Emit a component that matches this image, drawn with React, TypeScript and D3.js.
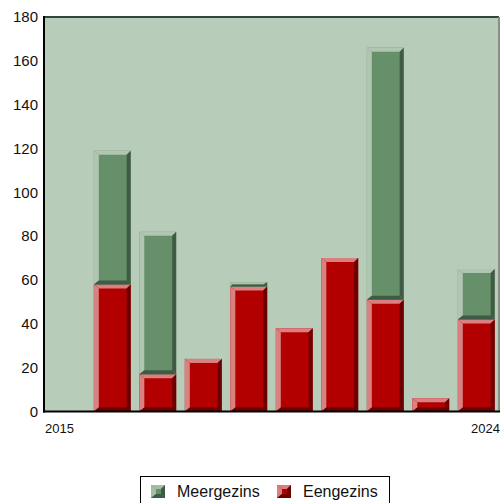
import * as React from 'react';
import * as d3 from 'd3';

const years = ['2015', '2016', '2017', '2018', '2019', '2020', '2021', '2022', '2023', '2024'];
const eengezins = [0, 58, 17, 24, 57, 38, 70, 51, 6, 42];
const meergezins = [0, 61, 65, 0, 2, 0, 0, 115, 0, 23];
const yTicks = [0, 20, 40, 60, 80, 100, 120, 140, 160, 180];
const xLabels = ['2015', '2024'];

const W = 502;
const H = 503;
const left = 44;
const right = 499;
const top = 17;
const bottom = 411.5;

const palette = {
	Eengezins: {light: '#d98080', mid: '#b20000', dark: '#6a0000'},
	Meergezins: {light: '#b0c6b0', mid: '#659069', dark: '#3f5b45'},
};

const bevel = (x, y, w, h, c) => {
	const l = Math.min(5, h / 2, w / 2);
	const t = Math.min(4, h / 2);
	const r = Math.min(4, w / 2);
	const b = Math.min(4, h / 2);
	const pts = (a) => a.map(p => p.join(',')).join(' ');
	return (
		<g>
			<rect x={x} y={y} width={w} height={h} fill={c.mid}/>
			<polygon fill={c.light} points={pts([[x, y], [x + w, y], [x + w - r, y + t], [x + l, y + t]])}/>
			<polygon fill={c.light} points={pts([[x, y], [x + l, y + t], [x + l, y + h - b], [x, y + h]])}/>
			<polygon fill={c.dark} points={pts([[x + w, y], [x + w, y + h], [x + w - r, y + h - b], [x + w - r, y + t]])}/>
			<polygon fill={c.dark} points={pts([[x, y + h], [x + w, y + h], [x + w - r, y + h - b], [x + l, y + h - b]])}/>
		</g>
	);
};

export default function App() {
	const x = d3.scaleBand().domain(years).range([left, right]).paddingInner(0.19).paddingOuter(0.095);
	const y = d3.scaleLinear().domain([0, 180]).range([bottom, top]);

	const rows = years.map((yr, i) => ({year: yr, Eengezins: eengezins[i], Meergezins: meergezins[i]}));
	const series = d3.stack().keys(['Eengezins', 'Meergezins'])(rows as any);

	const font = '"Liberation Sans", Arial, sans-serif';

	return (
		<svg width={W} height={H} style={{position: 'absolute', left: 0, top: 0, fontFamily: font}}>
			<rect x={0} y={0} width={W} height={H} fill="#fff"/>
			<rect x={left} y={top} width={right - left} height={bottom - top} fill="#b8cdb9"/>
			{series.map(s => (
				<g key={s.key}>
					{s.map((d: any, i) => {
						const v = d[1] - d[0];
						if (v <= 0) return null;
						const y0 = y(d[1]);
						const y1 = y(d[0]);
						return <g key={i}>{bevel(x(d.data.year), y0, x.bandwidth(), y1 - y0, palette[s.key])}</g>;
					})}
				</g>
			))}
			<line x1={left} x2={right} y1={top} y2={top} stroke="#34443a" strokeWidth={2}/>
			<line x1={right} x2={right} y1={top} y2={bottom} stroke="#8a8f8a" strokeWidth={2}/>
			<line x1={left} x2={left} y1={top - 1} y2={bottom + 1} stroke="#000" strokeWidth={2}/>
			<line x1={left - 1} x2={right + 1} y1={bottom} y2={bottom} stroke="#000" strokeWidth={2}/>
			{yTicks.map(t => (
				<text key={t} x={38} y={y(t)} dy="0.35em" textAnchor="end" fontSize={15} fill="#111">{t}</text>
			))}
			{xLabels.map((l, i) => (
				<text key={l} x={i === 0 ? left + 1 : right + 1} y={433} textAnchor={i === 0 ? 'start' : 'end'} fontSize={13} fill="#111">{l}</text>
			))}
			<rect x={140.5} y={476.5} width={249} height={40} fill="#fff" stroke="#000" strokeWidth={1}/>
			{bevel(151, 485, 14, 13, {light: '#a3bfa3', mid: '#659069', dark: '#3f5b45'})}
			<text x={177} y={497} fontSize={16} fill="#111">Meergezins</text>
			{bevel(277, 485, 14, 13, palette.Eengezins)}
			<text x={303} y={497} fontSize={16} fill="#111">Eengezins</text>
		</svg>
	);
}
